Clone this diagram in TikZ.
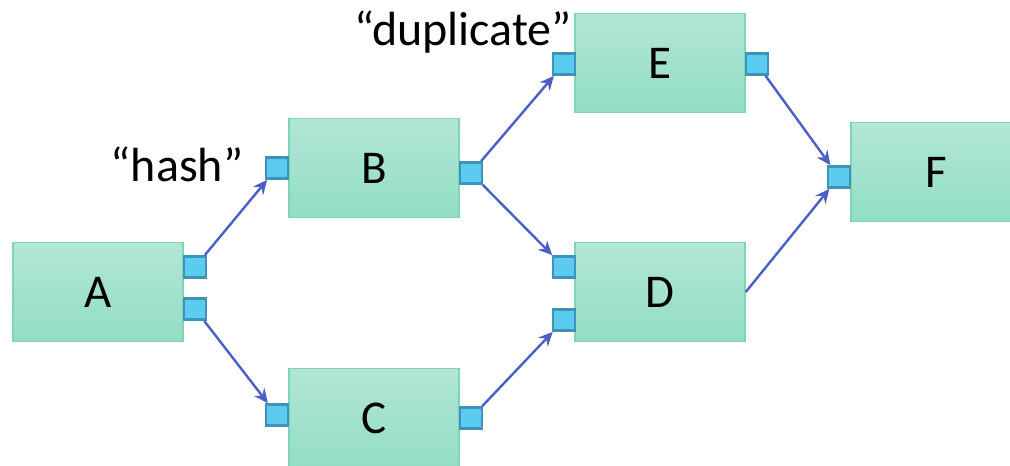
\documentclass[tikz,border=0pt]{standalone}
\usepackage{fontspec}
\setmainfont{Carlito}
\usetikzlibrary{arrows.meta}

\definecolor{boxtop}{HTML}{B3E6D7}
\definecolor{boxbot}{HTML}{92DEC4}
\definecolor{boxline}{HTML}{7DD4B6}
\definecolor{portfill}{HTML}{5BCBF0}
\definecolor{portline}{HTML}{3D94B8}
\definecolor{wire}{HTML}{4A60C8}

\begin{document}
\begin{tikzpicture}[x=1pt,y=-1pt,
    ->,>={Stealth[length=14pt,width=13pt]},
    op/.style={rectangle,draw=boxline,line width=1.5pt,top color=boxtop,bottom color=boxbot,
      minimum width=170pt,minimum height=99pt,inner sep=0pt,
      font=\fontsize{47}{50}\selectfont},
    port/.style={rectangle,draw=portline,fill=portfill,line width=2.8pt,
      minimum width=22pt,minimum height=21pt,inner sep=0pt},
    lbl/.style={font=\fontsize{48}{52}\selectfont},
    every edge/.style={draw=wire,line width=2.4pt}]

  \useasboundingbox (0,0) rectangle (1010,466);

  \node[op] (A) at (98,292) {A};
  \node[op] (B) at (374,168) {B};
  \node[op] (C) at (374,418) {C};
  \node[op] (E) at (660,63) {E};
  \node[op] (D) at (660,292) {D};
  \node[op] (F) at (936,172) {F};

  \node[port] (A_o1) at (195,267) {};
  \node[port] (A_o2) at (195,309) {};
  \node[port] (B_i) at (277,168) {};
  \node[port] (B_o) at (471,173) {};
  \node[port] (C_i) at (277,415) {};
  \node[port] (C_o) at (471,418) {};
  \node[port] (E_i) at (564,64) {};
  \node[port] (E_o) at (757,64) {};
  \node[port] (D_i1) at (564,267) {};
  \node[port] (D_i2) at (564,320) {};
  \node[port] (F_i) at (839,177) {};

  \node[lbl] (hash) at (177,164) {“hash”};
  \node[lbl] (dup) at (463,32) {“duplicate”};

  \path (A_o1) edge (B_i)
      (A_o2) edge (C_i)
      (B_o) edge (E_i)
      (B_o) edge (D_i1)
      (C_o) edge (D_i2)
      (E_o) edge (F_i)
      (D.east) edge (F_i);

\end{tikzpicture}
\end{document}
